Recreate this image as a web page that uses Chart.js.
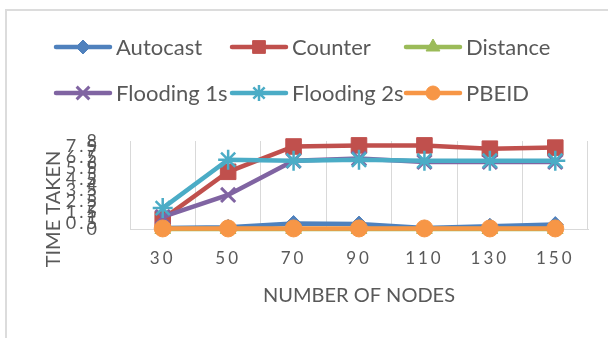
<!DOCTYPE html>
<html>
<head>
<meta charset="utf-8">
<script src="https://cdn.jsdelivr.net/npm/chart.js@4/dist/chart.umd.min.js"></script>
<style>
  html, body { margin: 0; padding: 0; background: #fff; width: 608px; height: 338px; overflow: hidden; }
  #frame { position: absolute; left: 5px; top: 9px; width: 640px; height: 360px;
           border-left: 2px solid #dcdcdc; border-top: 2px solid #dcdcdc; }
  #c { position: absolute; left: 0; top: 0; }
</style>
</head>
<body>
<div id="frame"></div>
<canvas id="c" width="608" height="338"></canvas>
<script>
// Number of nodes (category axis)
const nodeCounts = ['30', '50', '70', '90', '110', '130', '150'];

// Time taken per protocol
const autocast   = [0.1, 0.15, 0.5, 0.45, 0.1, 0.25, 0.4];
const counter    = [0.9, 5.2, 7.5, 7.6, 7.6, 7.3, 7.4];
const distance   = [0, 0, 0, 0, 0, 0, 0];
const flooding1s = [1.1, 3.1, 6.2, 6.4, 6.1, 6.1, 6.1];
const flooding2s = [1.9, 6.3, 6.2, 6.3, 6.2, 6.2, 6.2];
const pbeid      = [0.05, 0.05, 0.05, 0.05, 0.05, 0.05, 0.05];

// Value-axis ticks
const timeTicks = [0, 0.5, 1, 1.5, 2, 2.5, 3, 3.5, 4, 4.5, 5, 5.5, 6, 6.5, 7, 7.5, 8];

const xTitle = 'NUMBER OF NODES';
const yTitle = 'TIME TAKEN';

const GREY = '#595959';
const FONT = 'Lato, "Open Sans", sans-serif';

function series(label, data, color, style, radius, legendRadius, pbw, idx) {
  const stroked = style === 'crossRot' || style === 'star';
  return {
    label, data,
    borderColor: color, backgroundColor: color,
    borderWidth: 4.5,
    pointStyle: style,
    pointRadius: radius,
    pointHoverRadius: radius,
    pointBackgroundColor: stroked ? 'rgba(0,0,0,0)' : color,
    pointBorderColor: color,
    pointBorderWidth: pbw,
    legendRadius,
    tension: 0,
    clip: false,
    order: 5 - idx
  };
}

const datasets = [
  series('Autocast',    autocast,   '#4F81BD', 'rectRot',  8,   7,   1,   0),
  series('Counter',     counter,    '#C0504D', 'rect',     11,  9,   1,   1),
  series('Distance',    distance,   '#9BBB59', 'triangle', 9,   8,   1,   2),
  series('Flooding 1s', flooding1s, '#8064A2', 'crossRot', 10,  9,   3,   3),
  series('Flooding 2s', flooding2s, '#4BACC6', 'star',     10,  8,   2.5, 4),
  series('PBEID',       pbeid,      '#F79646', 'circle',   8.5, 7,   1,   5)
];

// Spaced-out tick lettering on the axes, then the grid legend and axis titles
const decorPlugin = {
  id: 'decor',
  beforeDraw(chart) { chart.ctx.letterSpacing = '3px'; },
  beforeDatasetsDraw(chart) { chart.ctx.letterSpacing = '0px'; },
  afterDraw(chart) {
    const ctx = chart.ctx;
    const colX = [56, 232, 406];
    const rowY = [47, 93];
    const lineLen = 54;
    chart.data.datasets.forEach((ds, i) => {
      const x0 = colX[i % 3];
      const y = rowY[Math.floor(i / 3)];
      ctx.save();
      ctx.strokeStyle = ds.borderColor;
      ctx.lineWidth = 4.5;
      ctx.lineCap = 'round';
      ctx.beginPath();
      ctx.moveTo(x0, y);
      ctx.lineTo(x0 + lineLen, y);
      ctx.stroke();
      ctx.fillStyle = ds.pointBackgroundColor;
      ctx.strokeStyle = ds.pointBorderColor;
      ctx.lineWidth = ds.pointBorderWidth;
      ctx.lineCap = 'butt';
      Chart.helpers.drawPoint(ctx, {
        pointStyle: ds.pointStyle, radius: ds.legendRadius, rotation: 0,
        borderWidth: ds.pointBorderWidth
      }, x0 + lineLen / 2, y);
      ctx.fillStyle = GREY;
      ctx.font = '22px ' + FONT;
      ctx.textBaseline = 'middle';
      ctx.textAlign = 'left';
      ctx.fillText(ds.label, x0 + lineLen + 6, y + 1);
      ctx.restore();
    });

    const area = chart.chartArea;
    ctx.save();
    ctx.fillStyle = GREY;
    ctx.font = '20px ' + FONT;
    ctx.textAlign = 'center';
    ctx.textBaseline = 'middle';
    ctx.fillText(xTitle, (area.left + area.right) / 2, 296);
    ctx.translate(54, 209);
    ctx.rotate(-Math.PI / 2);
    ctx.fillText(yTitle, 0, 0);
    ctx.restore();
  }
};

new Chart(document.getElementById('c'), {
  type: 'line',
  data: { labels: nodeCounts, datasets },
  plugins: [decorPlugin],
  options: {
    responsive: false,
    animation: false,
    devicePixelRatio: 1,
    layout: { padding: { top: 141, right: 20, left: 0, bottom: 0 } },
    plugins: { legend: { display: false }, tooltip: { enabled: false } },
    scales: {
      x: {
        type: 'category',
        offset: true,
        grid: { display: true, offset: true, color: '#d9d9d9', lineWidth: 1, drawTicks: false },
        border: { display: true, color: '#d9d9d9', width: 1 },
        ticks: { color: GREY, font: { family: FONT, size: 17 }, padding: 19, maxRotation: 0, autoSkip: false },
        afterFit(s) { s.height = 109; }
      },
      y: {
        min: 0, max: 8,
        grid: { display: false },
        border: { display: false },
        ticks: { color: GREY, font: { family: FONT, size: 18 }, padding: 22, autoSkip: false,
                 callback: v => String(v) },
        afterBuildTicks(s) { s.ticks = timeTicks.map(v => ({ value: v })); },
        afterFit(s) { s.width = 130; }
      }
    }
  }
});
</script>
</body>
</html>
